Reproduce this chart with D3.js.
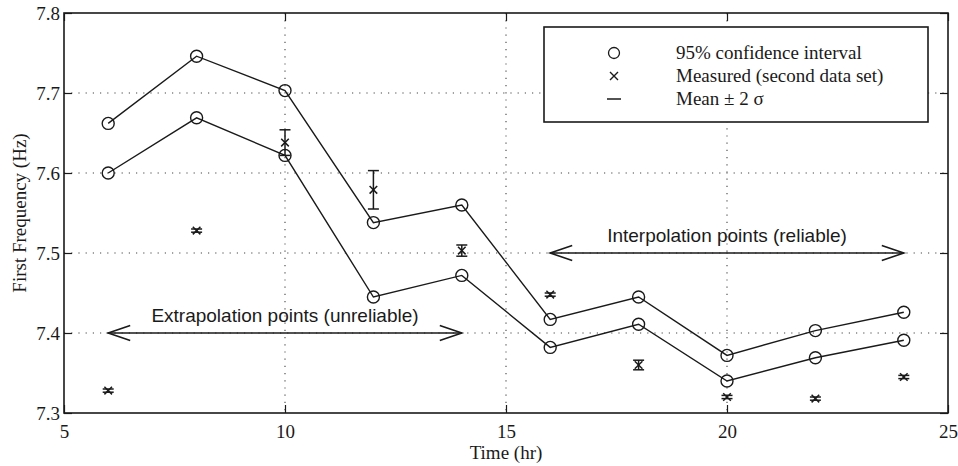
<!DOCTYPE html>
<html>
<head>
<meta charset="utf-8">
<script src="https://cdn.jsdelivr.net/npm/d3@7"></script>
<style>
  html, body { margin: 0; padding: 0; background: #fff; }
  svg { display: block; }
</style>
</head>
<body>
<svg id="chart" width="958" height="466"></svg>
<script>
// ---- Data ----
const times     = [6, 8, 10, 12, 14, 16, 18, 20, 22, 24];
const ciUpper   = [7.662, 7.746, 7.703, 7.538, 7.560, 7.417, 7.445, 7.372, 7.403, 7.426];
const ciLower   = [7.600, 7.669, 7.622, 7.445, 7.472, 7.382, 7.411, 7.340, 7.369, 7.391];
const measured  = [7.328, 7.528, 7.638, 7.579, 7.503, 7.448, 7.360, 7.320, 7.318, 7.345];
const twoSigma  = [0.002, 0.002, 0.016, 0.024, 0.007, 0.002, 0.006, 0.002, 0.002, 0.002];
const xTicks    = [5, 10, 15, 20, 25];
const yTicks    = [7.3, 7.4, 7.5, 7.6, 7.7, 7.8];
const legendItems = ["95% confidence interval", "Measured (second data set)", "Mean \u00b1 2 \u03c3"];
const arrows = [
  { from: 6,  to: 14, y: 7.4, label: "Extrapolation points (unreliable)" },
  { from: 16, to: 24, y: 7.5, label: "Interpolation points (reliable)" }
];

// ---- Layout ----
const svg = d3.select("#chart");
const L = 64, R = 948, T = 13, B = 413;
const x = d3.scaleLinear().domain([5, 25]).range([L, R]);
const y = d3.scaleLinear().domain([7.3, 7.8]).range([B, T]);
const ink = "#1a1a1a";
const serif = "'Liberation Serif', 'Times New Roman', serif";
const sans = "'Liberation Sans', Arial, sans-serif";

// gridlines (dotted)
const grid = svg.append("g").attr("stroke", "#444").attr("stroke-width", 1.1)
  .attr("stroke-dasharray", "1.2,6");
xTicks.slice(1, -1).forEach(t => grid.append("line")
  .attr("x1", x(t)).attr("x2", x(t)).attr("y1", T).attr("y2", B));
yTicks.slice(1, -1).forEach(t => grid.append("line")
  .attr("x1", L).attr("x2", R).attr("y1", y(t)).attr("y2", y(t)));

// axes with inward ticks
const axB = d3.axisBottom(x).tickValues(xTicks).tickSize(-8).tickPadding(12).tickFormat(d3.format("d"));
const axT = d3.axisTop(x).tickValues(xTicks).tickSize(-8).tickFormat("");
const axLft = d3.axisLeft(y).tickValues(yTicks).tickSize(-8).tickPadding(4).tickFormat(d3.format(".1f"));
const axRgt = d3.axisRight(y).tickValues(yTicks).tickSize(-8).tickFormat("");

function styleAxis(g) {
  g.select(".domain").remove();
  g.selectAll(".tick line").attr("stroke", ink).attr("stroke-width", 1.2);
  g.selectAll(".tick text").attr("fill", ink).style("font-family", serif).style("font-size", "19px");
}
svg.append("g").attr("transform", `translate(0,${B})`).call(axB).call(styleAxis);
svg.append("g").attr("transform", `translate(0,${T})`).call(axT).call(styleAxis);
svg.append("g").attr("transform", `translate(${L},0)`).call(axLft).call(styleAxis);
svg.append("g").attr("transform", `translate(${R},0)`).call(axRgt).call(styleAxis);

// frame
svg.append("rect").attr("x", L).attr("y", T).attr("width", R - L).attr("height", B - T)
  .attr("fill", "none").attr("stroke", ink).attr("stroke-width", 1.6);

// axis titles
svg.append("text").attr("x", (L + R) / 2).attr("y", 459).attr("text-anchor", "middle")
  .style("font-family", serif).style("font-size", "19px").attr("fill", ink).text("Time (hr)");
svg.append("text").attr("transform", `translate(26,${(T + B) / 2}) rotate(-90)`)
  .attr("text-anchor", "middle")
  .style("font-family", serif).style("font-size", "19px").attr("fill", ink).text("First Frequency (Hz)");

// CI lines
const line = d3.line().x(d => x(d[0])).y(d => y(d[1]));
[ciUpper, ciLower].forEach(series => {
  const pts = times.map((t, i) => [t, series[i]]);
  svg.append("path").attr("d", line(pts)).attr("fill", "none")
    .attr("stroke", ink).attr("stroke-width", 1.4);
  svg.append("g").selectAll("circle").data(pts).join("circle")
    .attr("cx", d => x(d[0])).attr("cy", d => y(d[1])).attr("r", 6)
    .attr("fill", "none").attr("stroke", ink).attr("stroke-width", 1.4);
});

// measured x markers with error bars
const mg = svg.append("g").attr("stroke", ink).attr("stroke-width", 1.5).attr("fill", "none");
times.forEach((t, i) => {
  const cx = x(t), cy = y(measured[i]);
  const yt = y(measured[i] + twoSigma[i]), yb = y(measured[i] - twoSigma[i]);
  const cap = 5.5, s = 3.8;
  mg.append("line").attr("x1", cx).attr("x2", cx).attr("y1", yt).attr("y2", yb);
  mg.append("line").attr("x1", cx - cap).attr("x2", cx + cap).attr("y1", yt).attr("y2", yt);
  mg.append("line").attr("x1", cx - cap).attr("x2", cx + cap).attr("y1", yb).attr("y2", yb);
  mg.append("line").attr("x1", cx - s).attr("x2", cx + s).attr("y1", cy - s).attr("y2", cy + s);
  mg.append("line").attr("x1", cx - s).attr("x2", cx + s).attr("y1", cy + s).attr("y2", cy - s);
});

// arrows
arrows.forEach(a => {
  const g = svg.append("g").attr("stroke", ink).attr("fill", "none").attr("stroke-width", 1.6);
  const x1 = x(a.from), x2 = x(a.to), yy = y(a.y);
  const hl = 22, hw = 7.5;
  g.append("line").attr("x1", x1).attr("x2", x2).attr("y1", yy).attr("y2", yy);
  g.append("path").attr("d", `M${x1 + hl},${yy - hw} L${x1},${yy} L${x1 + hl},${yy + hw}`);
  g.append("path").attr("d", `M${x2 - hl},${yy - hw} L${x2},${yy} L${x2 - hl},${yy + hw}`);
  svg.append("text").attr("x", (x1 + x2) / 2).attr("y", yy - 11).attr("text-anchor", "middle")
    .style("font-family", sans).style("font-size", "19px").attr("fill", ink).text(a.label);
});

// legend
const lg = svg.append("g");
lg.append("rect").attr("x", 544).attr("y", 27).attr("width", 384).attr("height", 95)
  .attr("fill", "#fff").attr("stroke", ink).attr("stroke-width", 1.6);
const rowY = [53, 76, 99], symX = 614, txtX = 676;
lg.append("circle").attr("cx", symX).attr("cy", rowY[0]).attr("r", 5.5)
  .attr("fill", "none").attr("stroke", ink).attr("stroke-width", 1.3);
lg.append("path").attr("d", `M${symX - 4},${rowY[1] - 4} L${symX + 4},${rowY[1] + 4} M${symX - 4},${rowY[1] + 4} L${symX + 4},${rowY[1] - 4}`)
  .attr("stroke", ink).attr("stroke-width", 1.4);
lg.append("line").attr("x1", symX - 7).attr("x2", symX + 7).attr("y1", rowY[2]).attr("y2", rowY[2])
  .attr("stroke", ink).attr("stroke-width", 1.5);
legendItems.forEach((t, i) => lg.append("text").attr("x", txtX).attr("y", rowY[i] + 6)
  .style("font-family", serif).style("font-size", "19px").attr("fill", ink).text(t));
</script>
</body>
</html>
